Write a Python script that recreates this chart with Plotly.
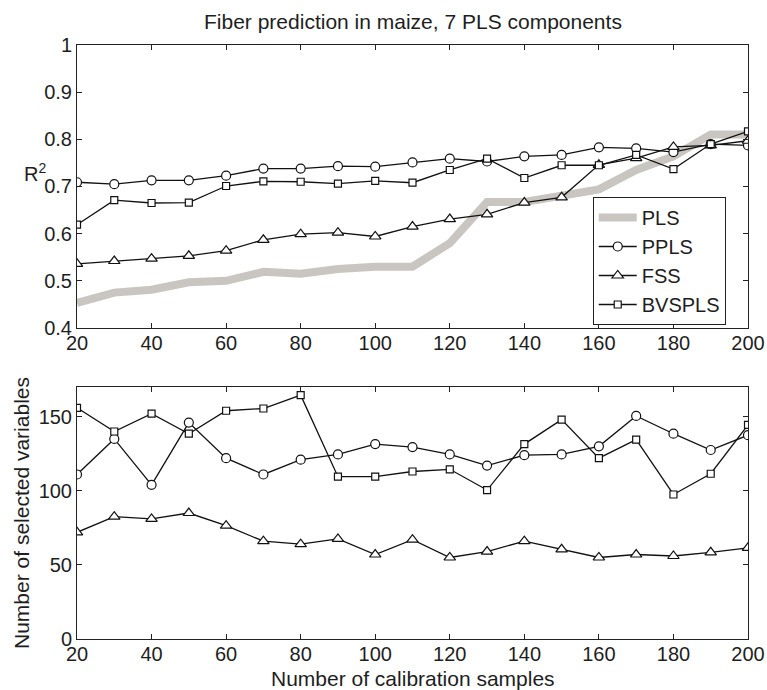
import plotly.graph_objects as go

samples = [20, 30, 40, 50, 60, 70, 80, 90, 100, 110, 120, 130, 140, 150, 160, 170, 180, 190, 200]

r2_pls = [0.453, 0.475, 0.481, 0.497, 0.500, 0.519, 0.515, 0.525, 0.530, 0.530,
          0.580, 0.667, 0.667, 0.679, 0.694, 0.735, 0.764, 0.810, 0.810]
r2_ppls = [0.709, 0.705, 0.713, 0.713, 0.723, 0.738, 0.738, 0.743, 0.742, 0.751,
           0.759, 0.753, 0.764, 0.767, 0.783, 0.781, 0.773, 0.790, 0.787]
r2_fss = [0.536, 0.542, 0.547, 0.553, 0.564, 0.587, 0.599, 0.602, 0.594, 0.615,
          0.631, 0.641, 0.666, 0.677, 0.746, 0.760, 0.784, 0.787, 0.797]
r2_bvspls = [0.619, 0.671, 0.665, 0.666, 0.701, 0.711, 0.710, 0.706, 0.712, 0.708,
             0.735, 0.759, 0.718, 0.745, 0.745, 0.767, 0.737, 0.790, 0.817]

nv_ppls = [111, 135, 104, 146, 122, 111, 121, 124.5, 131.5, 129.5,
           124.5, 117, 124, 124.5, 130, 150.5, 138.5, 127.5, 137.5]
nv_fss = [72, 82.5, 81, 85, 76.5, 66, 64, 67.5, 57, 67,
          55, 59, 66, 60.5, 55, 57, 56, 58.5, 61.5]
nv_bvspls = [156, 140, 152, 138.5, 154, 155.5, 164.5, 109.5, 109.5, 113,
             114.5, 100.5, 131.5, 148, 122, 134.5, 97.5, 111.5, 144.5]

title_text = "Fiber prediction in maize, 7 PLS components"
x_title = "Number of calibration samples"
y2_title = "Number of selected variables"
x_ticks = [20, 40, 60, 80, 100, 120, 140, 160, 180, 200]
y1_ticks = [0.4, 0.5, 0.6, 0.7, 0.8, 0.9, 1.0]
y1_labels = ["0.4", "0.5", "0.6", "0.7", "0.8", "0.9", "1"]
y2_ticks = [0, 50, 100, 150]

FONT = "Liberation Sans, Arial, sans-serif"
TXT = "#1e1e1e"
GRAY = "#c9c6c1"

fig = go.Figure()

fig.add_trace(go.Scatter(x=samples, y=r2_pls, name="PLS", mode="lines",
                         line=dict(color=GRAY, width=8), xaxis="x", yaxis="y"))

def mk(y, name, sym, size, xa, ya, show):
    return go.Scatter(x=samples, y=y, name=name, mode="lines+markers",
                      line=dict(color="#111111", width=1.3),
                      marker=dict(symbol=sym, size=size, color="white",
                                  line=dict(color="#111111", width=1.2)),
                      xaxis=xa, yaxis=ya, showlegend=show)

fig.add_trace(mk(r2_ppls, "PPLS", "circle", 9, "x", "y", True))
fig.add_trace(mk(r2_fss, "FSS", "triangle-up", 10, "x", "y", True))
fig.add_trace(mk(r2_bvspls, "BVSPLS", "square", 7, "x", "y", True))

fig.add_trace(mk(nv_ppls, "PPLS", "circle", 9, "x2", "y2", False))
fig.add_trace(mk(nv_fss, "FSS", "triangle-up", 10, "x2", "y2", False))
fig.add_trace(mk(nv_bvspls, "BVSPLS", "square", 7, "x2", "y2", False))

axis_common = dict(showline=True, linecolor="#222", linewidth=1, mirror="ticks",
                   ticks="inside", ticklen=5, tickcolor="#222", tickwidth=1,
                   showgrid=False, zeroline=False, automargin=False,
                   tickfont=dict(family=FONT, size=20, color=TXT))

fig.update_layout(
    width=767, height=690,
    margin=dict(l=77, r=19, t=45, b=51),
    paper_bgcolor="white", plot_bgcolor="white",
    font=dict(family=FONT, size=20, color=TXT),
    xaxis=dict(domain=[0, 1], range=[20, 200], tickvals=x_ticks, anchor="y",
               ticklabelstandoff=-3, **axis_common),
    yaxis=dict(domain=[0.5236, 1], range=[0.4, 1.0], tickvals=y1_ticks, ticktext=y1_labels,
               anchor="x", **axis_common),
    xaxis2=dict(domain=[0, 1], range=[20, 200], tickvals=x_ticks, anchor="y2",
                ticklabelstandoff=-3, **axis_common),
    yaxis2=dict(domain=[0, 0.4242], range=[0, 170], tickvals=y2_ticks, anchor="x2", **axis_common),
    legend=dict(x=0.7686, y=0.6364, xanchor="left", yanchor="middle",
                bgcolor="white", bordercolor="#222", borderwidth=1, itemwidth=38,
                font=dict(family=FONT, size=20, color=TXT), tracegroupgap=0),
    showlegend=True,
    annotations=[
        dict(text=title_text, xref="paper", yref="paper", x=0.5, y=1, yshift=10,
             xanchor="center", yanchor="bottom", showarrow=False,
             font=dict(family=FONT, size=21, color=TXT)),
        dict(text="R<sup>2</sup>", xref="paper", yref="paper", x=-0.0428, y=0.786,
             xanchor="right", yanchor="middle", showarrow=False,
             font=dict(family=FONT, size=20, color=TXT)),
        dict(text=x_title, xref="paper", yref="paper", x=0.5, y=0, yshift=-39,
             xanchor="center", yanchor="middle", showarrow=False,
             font=dict(family=FONT, size=21, color=TXT)),
        dict(text=y2_title, xref="paper", yref="paper", x=-0.0835, y=0.2121,
             xanchor="center", yanchor="middle", textangle=-90, showarrow=False,
             font=dict(family=FONT, size=21, color=TXT)),
    ],
)

fig.write_html("out.html", config={"displayModeBar": False},
               post_script="document.body.style.margin='0';document.body.style.padding='0';")
